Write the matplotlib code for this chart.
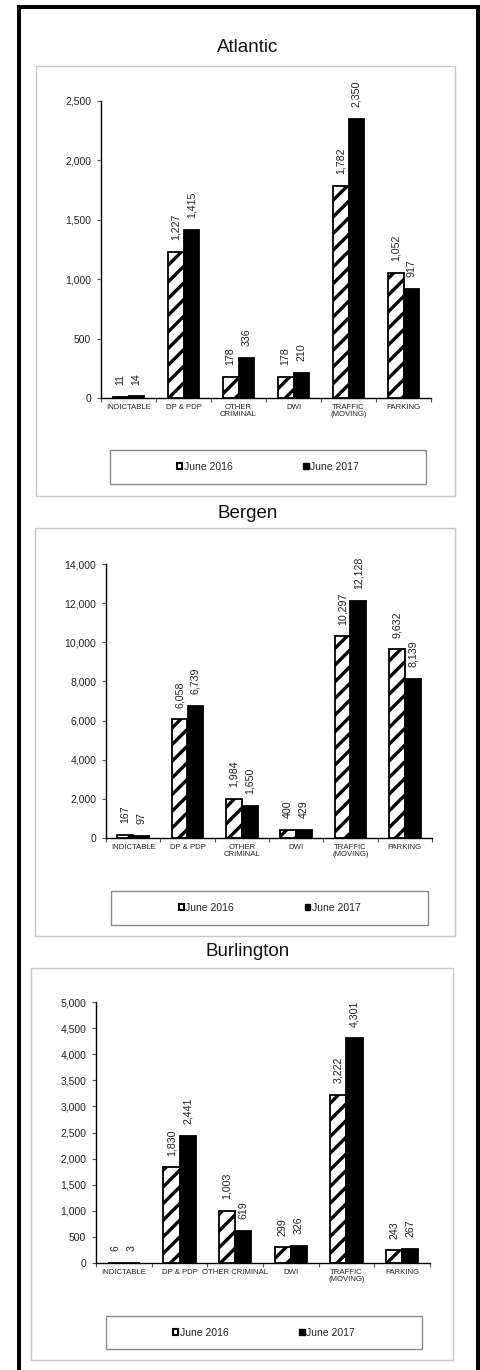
import matplotlib.pyplot as plt
import numpy as np
from matplotlib.patches import Rectangle, Patch

plt.rcParams['font.family'] = ['Liberation Sans', 'DejaVu Sans']
plt.rcParams['hatch.linewidth'] = 2.4

# data
categories = ['INDICTABLE', 'DP & PDP', 'OTHER\nCRIMINAL', 'DWI', 'TRAFFIC\n(MOVING)', 'PARKING']
categories_burl = ['INDICTABLE', 'DP & PDP', 'OTHER CRIMINAL', 'DWI', 'TRAFFIC\n(MOVING)', 'PARKING']
series_names = ['June 2016', 'June 2017']

atlantic_2016 = [11, 1227, 178, 178, 1782, 1052]
atlantic_2017 = [14, 1415, 336, 210, 2350, 917]
bergen_2016 = [167, 6058, 1984, 400, 10297, 9632]
bergen_2017 = [97, 6739, 1650, 429, 12128, 8139]
burlington_2016 = [6, 1830, 1003, 299, 3222, 243]
burlington_2017 = [3, 2441, 619, 326, 4301, 267]

atlantic_ticks = [0, 500, 1000, 1500, 2000, 2500]
bergen_ticks = [0, 2000, 4000, 6000, 8000, 10000, 12000, 14000]
burlington_ticks = [0, 500, 1000, 1500, 2000, 2500, 3000, 3500, 4000, 4500, 5000]

W, H = 480, 1370
fig = plt.figure(figsize=(W / 100, H / 100), dpi=100)


def box(x0, y0, x1, y1):
    # pixel box (top-left origin) -> figure fraction [l, b, w, h]
    return [x0 / W, 1 - y1 / H, (x1 - x0) / W, (y1 - y0) / H]


def frame(x0, y0, x1, y1, ec, lw=1.0, fc='none', z=0):
    l, b, w, h = box(x0, y0, x1, y1)
    fig.patches.append(Rectangle((l, b), w, h, transform=fig.transFigure,
                                 facecolor=fc, edgecolor=ec, linewidth=lw, zorder=z))


# outer black border
frame(17, 5, 21, H, 'none', fc='black')
frame(17, 5, W, 9, 'none', fc='black')
frame(476, 5, W, H, 'none', fc='black')

panels = [
    dict(title='Atlantic', t_y=48, outer=(36, 66, 455, 496), ax=(101, 101, 431, 398),
         leg=(110, 450, 426, 484), cats=categories, a=atlantic_2016, b=atlantic_2017,
         ticks=atlantic_ticks),
    dict(title='Bergen', t_y=513, outer=(35, 528, 455, 936), ax=(106, 564, 432, 838),
         leg=(111, 891, 428, 925), cats=categories, a=bergen_2016, b=bergen_2017,
         ticks=bergen_ticks),
    dict(title='Burlington', t_y=951, outer=(31, 968, 453, 1360), ax=(96, 1002, 430, 1263),
         leg=(106, 1316, 422, 1349), cats=categories_burl, a=burlington_2016, b=burlington_2017,
         ticks=burlington_ticks),
]

bw = 0.29
for p in panels:
    frame(*p['outer'], ec='#c8c8c8', lw=1.0)
    fig.text(248 / W, 1 - p['t_y'] / H, p['title'], ha='center', va='center',
             fontsize=13.5, color='#111111')

    ax = fig.add_axes(box(*p['ax']))
    x = np.arange(len(p['cats']))
    b1 = ax.bar(x - bw / 2, p['a'], bw, color='white', edgecolor='black',
                hatch='//', linewidth=1.3, zorder=3, clip_on=False)
    b2 = ax.bar(x + bw / 2, p['b'], bw, color='black', edgecolor='black',
                linewidth=1.3, zorder=3, clip_on=False)
    for bars in (b1, b2):
        for r in bars:
            v = r.get_height()
            ax.annotate(f'{int(v):,}', (r.get_x() + r.get_width() / 2, v),
                        xytext=(0, 8.5), textcoords='offset points', rotation=90,
                        ha='center', va='bottom', fontsize=7.7, color='#222222')

    ax.set_xlim(-0.5, len(p['cats']) - 0.5)
    ax.set_ylim(0, p['ticks'][-1])
    ax.set_yticks(p['ticks'])
    ax.set_yticklabels([f'{t:,}' for t in p['ticks']], fontsize=7.5, color='#222222')
    ax.set_xticks(x)
    ax.set_xticklabels(p['cats'], fontsize=5.6, color='#222222', linespacing=1.1)
    ax.set_xticks(np.arange(len(p['cats']) + 1) - 0.5, minor=True)
    ax.tick_params(axis='x', which='major', length=0, pad=4)
    ax.tick_params(axis='x', which='minor', length=3, color='#555555', width=0.8)
    ax.tick_params(axis='y', length=3, color='#555555', width=0.8, pad=4)
    for s in ('top', 'right'):
        ax.spines[s].set_visible(False)
    for s in ('left', 'bottom'):
        ax.spines[s].set_linewidth(1.0)
        ax.spines[s].set_color('black')
    ax.patch.set_alpha(0)

    # legend
    frame(*p['leg'], ec='#8a8a8a', lw=1.0)
    l, b, w, h = box(*p['leg'])
    handles = [Patch(facecolor='white', edgecolor='black', linewidth=1.5),
               Patch(facecolor='black', edgecolor='black', linewidth=1.0)]
    fig.legend(handles, series_names, loc='center', bbox_to_anchor=(l + w / 2, b + h / 2),
               ncol=2, frameon=False, fontsize=7.5, handlelength=0.5, handleheight=0.5,
               handletextpad=0.15, columnspacing=6.8, labelcolor='#222222')

fig.savefig('out.png', dpi=100)
